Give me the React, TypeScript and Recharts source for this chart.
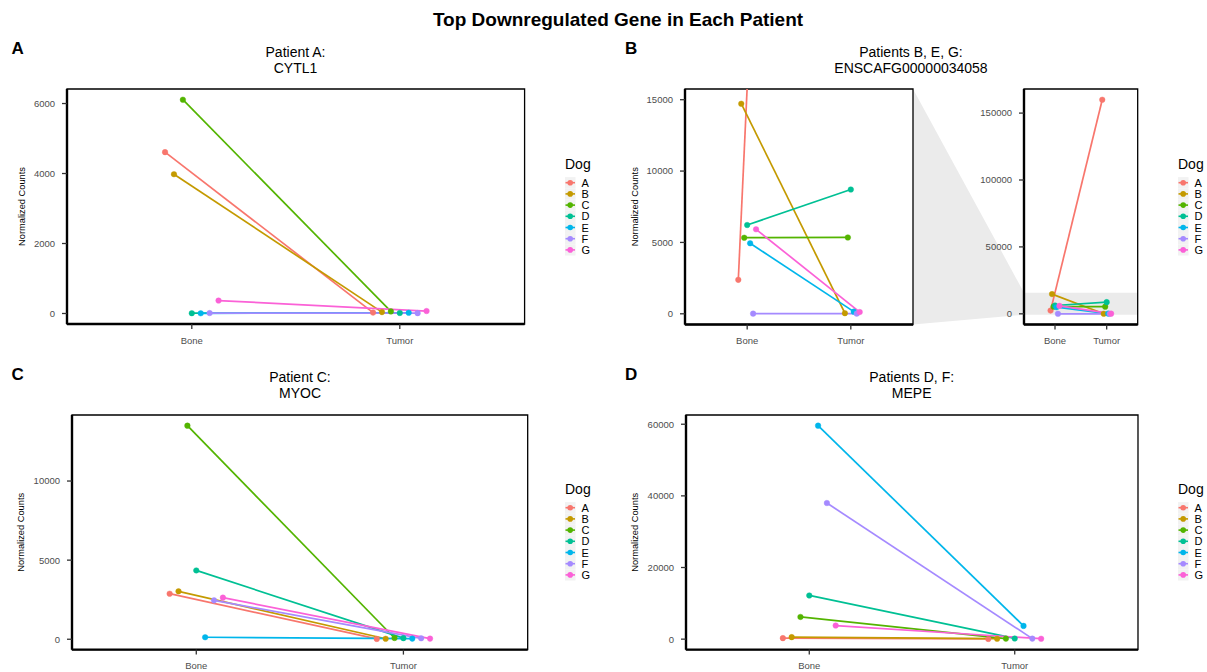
import React from 'react';
import { LineChart, Line, XAxis, YAxis, ReferenceArea, Label } from 'recharts';

const FONT = '"Liberation Sans", Arial, Helvetica, sans-serif';

const DOGS = ['A', 'B', 'C', 'D', 'E', 'F', 'G'];
const DOG_COLORS = ['#F8766D', '#C49A00', '#53B400', '#00C094', '#00B6EB', '#A58AFF', '#FB61D7'];
const TISSUES = ['Bone', 'Tumor'];

// Patient A: CYTL1
const CYTL1_BONE = [4610, 3980, 6110, 8, 5, 12, 370];
const CYTL1_TUMOR = [25, 40, 60, 15, 20, 10, 70];
const CYTL1_TICKS = [0, 2000, 4000, 6000];

// Patients B, E, G: ENSCAFG00000034058
const ENS_BONE = [2380, 14720, 5330, 6220, 4940, 10, 5920];
const ENS_TUMOR = [160000, 40, 5350, 8710, 150, 10, 120];
const ENS_ZOOM = [-750, 15750];
const ENS_ZOOM_TICKS = [0, 5000, 10000, 15000];
const ENS_TICKS = [0, 50000, 100000, 150000];

// Patient C: MYOC
const MYOC_BONE = [2880, 3030, 13500, 4350, 125, 2460, 2630];
const MYOC_TUMOR = [20, 30, 80, 70, 40, 60, 40];
const MYOC_TICKS = [0, 5000, 10000];

// Patients D, F: MEPE
const MEPE_BONE = [280, 560, 6200, 12200, 59600, 38000, 3800];
const MEPE_TUMOR = [60, 120, 150, 200, 3700, 150, 120];
const MEPE_TICKS = [0, 20000, 40000, 60000];

// plot boxes on the page
const BOX_A = { x0: 66.7, x1: 524.3, y0: 89, y1: 324 };
const BOX_B = { x0: 685, x1: 913, y0: 89, y1: 324.5 };
const BOX_B2 = { x0: 1024, x1: 1137.7, y0: 89, y1: 324.5 };
const BOX_C = { x0: 72.3, x1: 528, y0: 414.7, y1: 649.3 };
const BOX_D = { x0: 685.7, x1: 1137.7, y0: 414.7, y1: 649.3 };

const YW = 60;
const MT = 6;
const MR = 6;
const XH = 30;

type Box = { x0: number; x1: number; y0: number; y1: number };

function buildSeries(bone: number[], tumor: number[], step: number) {
  return DOGS.map((_, i) => [
    { x: 1 + (i - 3) * step, y: bone[i] },
    { x: 2 + (i - 3) * step, y: tumor[i] },
  ]);
}

function padDomain(bone: number[], tumor: number[]): [number, number] {
  const all = [...bone, ...tumor];
  const lo = Math.min(...all);
  const hi = Math.max(...all);
  const pad = (hi - lo) * 0.05;
  return [lo - pad, hi + pad];
}

function Panel({ box, series, domain, ticks, labelGap, band }: {
  box: Box; series: { x: number; y: number }[][]; domain: [number, number]; ticks: number[];
  labelGap?: number; band?: number[];
}) {
  const w = box.x1 - box.x0 + YW + MR;
  const h = box.y1 - box.y0 + MT + XH;
  const tickStyle = { fill: '#4d4d4d', fontSize: 9.5, fontFamily: FONT };
  const renderLabel = () => {
    const cx = YW - (labelGap ?? 0);
    const cy = MT + (box.y1 - box.y0) / 2;
    return (
      <text x={cx} y={cy} transform={`rotate(-90 ${cx} ${cy})`} textAnchor="middle" dominantBaseline="central"
        fontSize={9.3} fill="#000" fontFamily={FONT}>Normalized Counts</text>
    );
  };
  return (
    <div style={{ position: 'absolute', left: box.x0 - YW, top: box.y0 - MT }}>
      <LineChart width={w} height={h} margin={{ top: MT, right: MR, bottom: 0, left: 0 }}>
        <XAxis type="number" dataKey="x" domain={[0.4, 2.6]} ticks={[1, 2]} allowDataOverflow
          tickFormatter={(v: number) => TISSUES[Math.round(v) - 1]} height={XH} tick={tickStyle}
          tickSize={5} tickMargin={8} tickLine={{ stroke: '#333', strokeWidth: 1.3 }}
          axisLine={{ stroke: '#000', strokeWidth: 2.4 }} interval={0} />
        <YAxis type="number" domain={domain} ticks={ticks} allowDataOverflow width={YW} tick={tickStyle}
          tickSize={5} tickMargin={7} tickLine={{ stroke: '#333', strokeWidth: 1.3 }}
          axisLine={{ stroke: '#000', strokeWidth: 2.4 }} interval={0}>
          {labelGap !== undefined && <Label content={renderLabel} />}
        </YAxis>
        {band && (
          <ReferenceArea x1={0.4} x2={2.6} y1={band[0]} y2={band[1]} fill="#EBEBEB" fillOpacity={1}
            stroke="none" ifOverflow="hidden" />
        )}
        {series.map((pts, i) => (
          <Line key={DOGS[i]} data={pts} dataKey="y" type="linear" stroke={DOG_COLORS[i]} strokeWidth={1.7}
            dot={{ r: 2.8, fill: DOG_COLORS[i], stroke: DOG_COLORS[i], strokeWidth: 0.4 }} activeDot={false}
            isAnimationActive={false} />
        ))}
        <ReferenceArea x1={0.4} x2={2.6} y1={domain[0]} y2={domain[1]} fill="none" stroke="#000"
          strokeWidth={1.3} ifOverflow="visible" />
      </LineChart>
    </div>
  );
}

function DogLegend({ x, y }: { x: number; y: number }) {
  // x: left of title, y: baseline of title
  const first = y + 13.7;
  return (
    <g fontFamily={FONT}>
      <text x={x} y={y} fontSize={14} fill="#000">Dog</text>
      {DOGS.map((d, i) => {
        const cy = first + i * 11.2;
        return (
          <g key={d}>
            <rect x={x} y={cy - 5.6} width={10.5} height={11.2} fill="#F2F2F2" />
            <line x1={x + 0.5} x2={x + 10} y1={cy} y2={cy} stroke={DOG_COLORS[i]} strokeWidth={1.6} />
            <circle cx={x + 5.2} cy={cy} r={2.8} fill={DOG_COLORS[i]} />
            <text x={x + 16.5} y={cy + 4} fontSize={11} fill="#000">{d}</text>
          </g>
        );
      })}
    </g>
  );
}

function PanelTitle({ cx, y, lines }: { cx: number; y: number; lines: string[] }) {
  return (
    <g fontFamily={FONT} fontSize={14} fill="#000" textAnchor="middle">
      {lines.map((t, i) => <text key={t} x={cx} y={y + i * 15.8}>{t}</text>)}
    </g>
  );
}

export default function App() {
  const domA = padDomain(CYTL1_BONE, CYTL1_TUMOR);
  const domB2 = padDomain(ENS_BONE, ENS_TUMOR);
  const domC = padDomain(MYOC_BONE, MYOC_TUMOR);
  const domD = padDomain(MEPE_BONE, MEPE_TUMOR);

  const yIn = (v: number) => BOX_B2.y0 + (domB2[1] - v) / (domB2[1] - domB2[0]) * (BOX_B2.y1 - BOX_B2.y0);
  const wedge = `${BOX_B.x1},${BOX_B.y0} ${BOX_B2.x0},${yIn(ENS_ZOOM[1])} ${BOX_B2.x0},${yIn(ENS_ZOOM[0])} ${BOX_B.x1},${BOX_B.y1}`;

  return (
    <div style={{ position: 'absolute', left: 0, top: 0, width: 1207, height: 672, background: '#fff', fontFamily: FONT, overflow: 'hidden' }}>
      <svg width={1207} height={672} style={{ position: 'absolute', left: 0, top: 0 }}>
        <polygon points={wedge} fill="#EBEBEB" />
      </svg>

      <Panel box={BOX_A} series={buildSeries(CYTL1_BONE, CYTL1_TUMOR, 0.3 / 7)} domain={domA} ticks={CYTL1_TICKS} labelGap={45} />
      <Panel box={BOX_B} series={buildSeries(ENS_BONE, ENS_TUMOR, 0.2 / 7)} domain={[ENS_ZOOM[0], ENS_ZOOM[1]]} ticks={ENS_ZOOM_TICKS} labelGap={50.5} />
      <Panel box={BOX_B2} series={buildSeries(ENS_BONE, ENS_TUMOR, 0.2 / 7)} domain={domB2} ticks={ENS_TICKS} band={ENS_ZOOM} />
      <Panel box={BOX_C} series={buildSeries(MYOC_BONE, MYOC_TUMOR, 0.3 / 7)} domain={domC} ticks={MYOC_TICKS} labelGap={50.6} />
      <Panel box={BOX_D} series={buildSeries(MEPE_BONE, MEPE_TUMOR, 0.3 / 7)} domain={domD} ticks={MEPE_TICKS} labelGap={50.6} />

      <svg width={1207} height={672} style={{ position: 'absolute', left: 0, top: 0, pointerEvents: 'none' }}>
        <text x={618} y={26} textAnchor="middle" fontSize={19} fontWeight="bold" fontFamily={FONT} fill="#000">
          Top Downregulated Gene in Each Patient
        </text>
        <g fontFamily={FONT} fontSize={17} fontWeight="bold" fill="#000">
          <text x={11.5} y={54}>A</text>
          <text x={625} y={54}>B</text>
          <text x={11.5} y={379.5}>C</text>
          <text x={625} y={379.5}>D</text>
        </g>
        <PanelTitle cx={295.5} y={57} lines={['Patient A:', 'CYTL1']} />
        <PanelTitle cx={911} y={57} lines={['Patients B, E, G:', 'ENSCAFG00000034058']} />
        <PanelTitle cx={300} y={382.3} lines={['Patient C:', 'MYOC']} />
        <PanelTitle cx={911.7} y={382.3} lines={['Patients D, F:', 'MEPE']} />
        <DogLegend x={565} y={169} />
        <DogLegend x={1178} y={169} />
        <DogLegend x={565} y={494} />
        <DogLegend x={1178} y={494} />
      </svg>
    </div>
  );
}
